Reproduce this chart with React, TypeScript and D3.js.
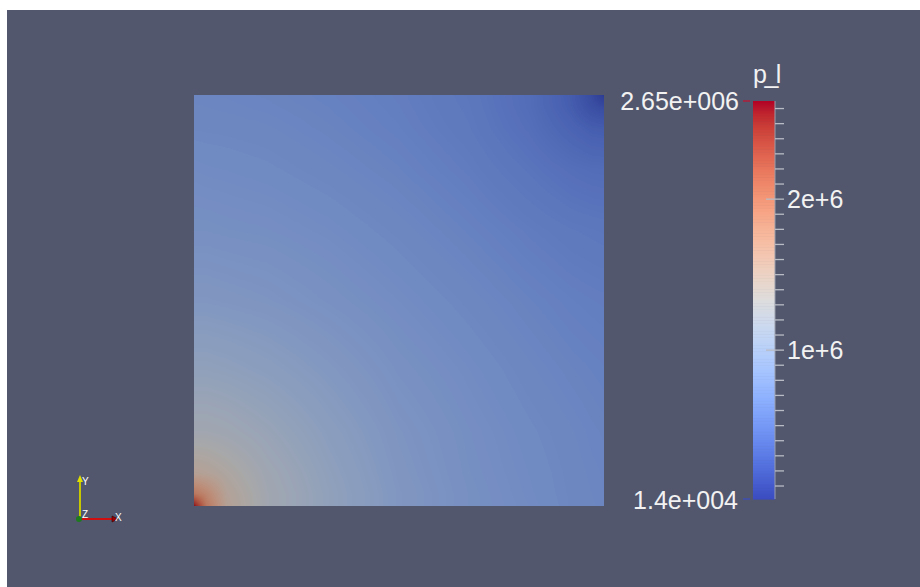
import React, { useMemo } from "react";
import * as d3 from "d3";

// ---- data ----
// node coordinates of the sampled field (fraction of the square, x to the right, y upward)
const gridCoords = [0, 0.03, 0.08, 0.18, 0.33, 0.5, 0.67, 0.82, 0.92, 0.97, 1];
// p_l in kPa, one row per y node (bottom row first), one value per x node
const pRow0 = [2650, 1986, 1511, 1242, 1053, 892, 794, 742, 699, 684, 673];
const pRow1 = [1986, 1828, 1485, 1242, 1053, 892, 794, 736, 697, 681, 670];
const pRow2 = [1511, 1485, 1401, 1216, 1037, 881, 786, 731, 694, 676, 668];
const pRow3 = [1242, 1242, 1216, 1132, 992, 860, 776, 718, 684, 665, 657];
const pRow4 = [1053, 1053, 1037, 992, 908, 810, 744, 686, 652, 639, 631];
const pRow5 = [892, 892, 881, 860, 810, 752, 694, 641, 610, 599, 594];
const pRow6 = [794, 794, 786, 776, 744, 694, 636, 581, 549, 539, 533];
const pRow7 = [742, 736, 731, 718, 686, 641, 581, 507, 454, 436, 433];
const pRow8 = [699, 697, 694, 684, 652, 610, 549, 454, 351, 301, 291];
const pRow9 = [684, 681, 676, 665, 639, 599, 539, 436, 301, 183, 141];
const pRow10 = [673, 670, 668, 657, 631, 594, 533, 433, 291, 141, 14];
const pRows = [pRow0, pRow1, pRow2, pRow3, pRow4, pRow5, pRow6, pRow7, pRow8, pRow9, pRow10];

const rangeMin = 14000;
const rangeMax = 2650000;
const minorTicks = d3.range(1, 27).map((k) => k * 100000);
const majorTicks = [1000000, 2000000];
const majorLabels = ["1e+6", "2e+6"];
const minLabel = "1.4e+004";
const maxLabel = "2.65e+006";
const title = "p_l";

// Cool to Warm colour map stops
const cmStops: [number, number, number, number][] = [
  [0.0, 59, 76, 192], [0.03125, 68, 90, 204], [0.0625, 77, 104, 215], [0.09375, 87, 117, 225],
  [0.125, 98, 130, 234], [0.15625, 108, 142, 241], [0.1875, 119, 154, 247], [0.21875, 130, 165, 251],
  [0.25, 141, 176, 254], [0.28125, 152, 185, 255], [0.3125, 163, 194, 255], [0.34375, 174, 201, 253],
  [0.375, 184, 208, 249], [0.40625, 194, 213, 244], [0.4375, 204, 217, 238], [0.46875, 213, 219, 230],
  [0.5, 221, 221, 221], [0.53125, 229, 216, 209], [0.5625, 236, 211, 197], [0.59375, 241, 204, 185],
  [0.625, 245, 196, 173], [0.65625, 247, 187, 160], [0.6875, 247, 177, 148], [0.71875, 247, 166, 135],
  [0.75, 244, 154, 123], [0.78125, 241, 141, 111], [0.8125, 236, 127, 99], [0.84375, 229, 112, 88],
  [0.875, 222, 96, 77], [0.90625, 213, 80, 66], [0.9375, 203, 62, 56], [0.96875, 192, 40, 47],
  [1.0, 180, 4, 38],
];

const W = 920;
const H = 587;
const BG = "#52576e";
const LIT = 0.76;
const FONT = "'Liberation Sans', Arial, sans-serif";

const sq = { x0: 194, x1: 604, y0: 95, y1: 506 };
const bar = { x: 753, w: 22, top: 101, bottom: 499 };

function buildLut(n: number): [number, number, number][] {
  const sc = d3
    .scaleLinear<string>()
    .domain(cmStops.map((s) => s[0]))
    .range(cmStops.map((s) => `rgb(${s[1]},${s[2]},${s[3]})`))
    .interpolate(d3.interpolateRgb);
  return d3.range(n).map((k) => {
    const c = d3.rgb(sc(k / (n - 1)));
    return [c.r, c.g, c.b];
  });
}

export default function App() {
  const lut = useMemo(() => buildLut(256), []);
  const tScale = useMemo(
    () => d3.scaleLinear().domain([rangeMin / 1000, rangeMax / 1000]).range([0, 1]).clamp(true),
    []
  );
  const xS = d3.scaleLinear().domain([0, 1]).range([sq.x0, sq.x1]);
  const yS = d3.scaleLinear().domain([0, 1]).range([sq.y1, sq.y0]);
  const barScale = d3.scaleLinear().domain([rangeMin, rangeMax]).range([bar.bottom, bar.top]);

  const fieldUrl = useMemo(() => {
    if (typeof document === "undefined") return "";
    const w = Math.round(sq.x1 - sq.x0);
    const h = Math.round(sq.y1 - sq.y0);
    const cv = document.createElement("canvas");
    cv.width = w;
    cv.height = h;
    const ctx = cv.getContext("2d");
    if (!ctx) return "";
    const img = ctx.createImageData(w, h);
    const bis = d3.bisector((d: number) => d).right;
    const n = gridCoords.length;
    const locate = (u: number) => {
      let i = bis(gridCoords, u) - 1;
      i = Math.max(0, Math.min(n - 2, i));
      const f = (u - gridCoords[i]) / (gridCoords[i + 1] - gridCoords[i]);
      return [i, Math.max(0, Math.min(1, f))];
    };
    for (let py = 0; py < h; py++) {
      const v = yS.invert(sq.y0 + py + 0.5);
      const [j, fy] = locate(v);
      for (let px = 0; px < w; px++) {
        const u = xS.invert(sq.x0 + px + 0.5);
        const [i, fx] = locate(u);
        const p =
          pRows[j][i] * (1 - fx) * (1 - fy) +
          pRows[j][i + 1] * fx * (1 - fy) +
          pRows[j + 1][i] * (1 - fx) * fy +
          pRows[j + 1][i + 1] * fx * fy;
        const t = tScale(p);
        const c = lut[Math.min(255, Math.max(0, Math.round(t * 255)))];
        const o = (py * w + px) * 4;
        img.data[o] = c[0] * LIT;
        img.data[o + 1] = c[1] * LIT;
        img.data[o + 2] = c[2] * LIT;
        img.data[o + 3] = 255;
      }
    }
    ctx.putImageData(img, 0, 0);
    return cv.toDataURL();
  }, [lut]);

  const nb = lut.length;
  const bandH = (bar.bottom - bar.top) / nb;

  return (
    <svg
      width={W}
      height={H}
      style={{ position: "fixed", left: 0, top: 0, display: "block" }}
      xmlns="http://www.w3.org/2000/svg"
    >
      <rect x={0} y={0} width={W} height={H} fill="#ffffff" />
      <rect x={7} y={10} width={W - 7} height={H - 10} fill={BG} />

      {/* field */}
      {fieldUrl && (
        <image
          href={fieldUrl}
          x={sq.x0}
          y={sq.y0}
          width={sq.x1 - sq.x0}
          height={sq.y1 - sq.y0}
          preserveAspectRatio="none"
        />
      )}

      {/* colour bar */}
      <g>
        {lut.map((c, k) => (
          <rect
            key={k}
            x={bar.x}
            y={bar.bottom - (k + 1) * bandH}
            width={bar.w}
            height={bandH + 0.6}
            fill={`rgb(${c[0]},${c[1]},${c[2]})`}
          />
        ))}
        <line x1={bar.x + bar.w} x2={bar.x + bar.w} y1={bar.top} y2={bar.bottom} stroke="#9a9eab" strokeWidth={1} />
        {minorTicks.map((v) => (
          <line
            key={v}
            x1={majorTicks.includes(v) ? bar.x + 13 : bar.x + bar.w}
            x2={bar.x + bar.w + 9}
            y1={barScale(v)}
            y2={barScale(v)}
            stroke="#b9bcc4"
            strokeWidth={1.3}
          />
        ))}
        <line x1={743} x2={750} y1={barScale(rangeMax)} y2={barScale(rangeMax)} stroke="#c8102e" strokeWidth={1.2} />
        <line x1={743} x2={750} y1={barScale(rangeMin)} y2={barScale(rangeMin)} stroke="#3b4cc0" strokeWidth={1.2} />
        {majorTicks.map((v, k) => (
          <text key={v} x={787} y={barScale(v) + 8.5} fill="#f2f2f2" fontFamily={FONT} fontSize={25}>
            {majorLabels[k]}
          </text>
        ))}
        <text x={739} y={barScale(rangeMax) + 9} textAnchor="end" fill="#f2f2f2" fontFamily={FONT} fontSize={25}>
          {maxLabel}
        </text>
        <text x={738} y={barScale(rangeMin) + 10} textAnchor="end" fill="#f2f2f2" fontFamily={FONT} fontSize={25}>
          {minLabel}
        </text>
        <text x={753} y={83} fill="#f2f2f2" fontFamily={FONT} fontSize={25} letterSpacing={-2.5}>
          {title}
        </text>
      </g>

      {/* axes triad */}
      <g>
        <line x1={80} x2={80} y1={519} y2={481} stroke="#c8c800" strokeWidth={2} />
        <path d="M77,482 L83,482 L80,475 Z" fill="#e0e000" />
        <line x1={80} x2={112} y1={519} y2={519} stroke="#d01010" strokeWidth={2} />
        <path d="M112,516 L112,522 L118,519 Z" fill="#a00000" stroke="#300" strokeWidth={0.6} />
        <circle cx={79} cy={519} r={3} fill="#1e7a1e" />
        <text x={82} y={485} fill="#ffffff" fontFamily={FONT} fontSize={10}>Y</text>
        <text x={82} y={518} fill="#ffffff" fontFamily={FONT} fontSize={10}>Z</text>
        <text x={115} y={521} fill="#ffffff" fontFamily={FONT} fontSize={10}>X</text>
      </g>
    </svg>
  );
}
